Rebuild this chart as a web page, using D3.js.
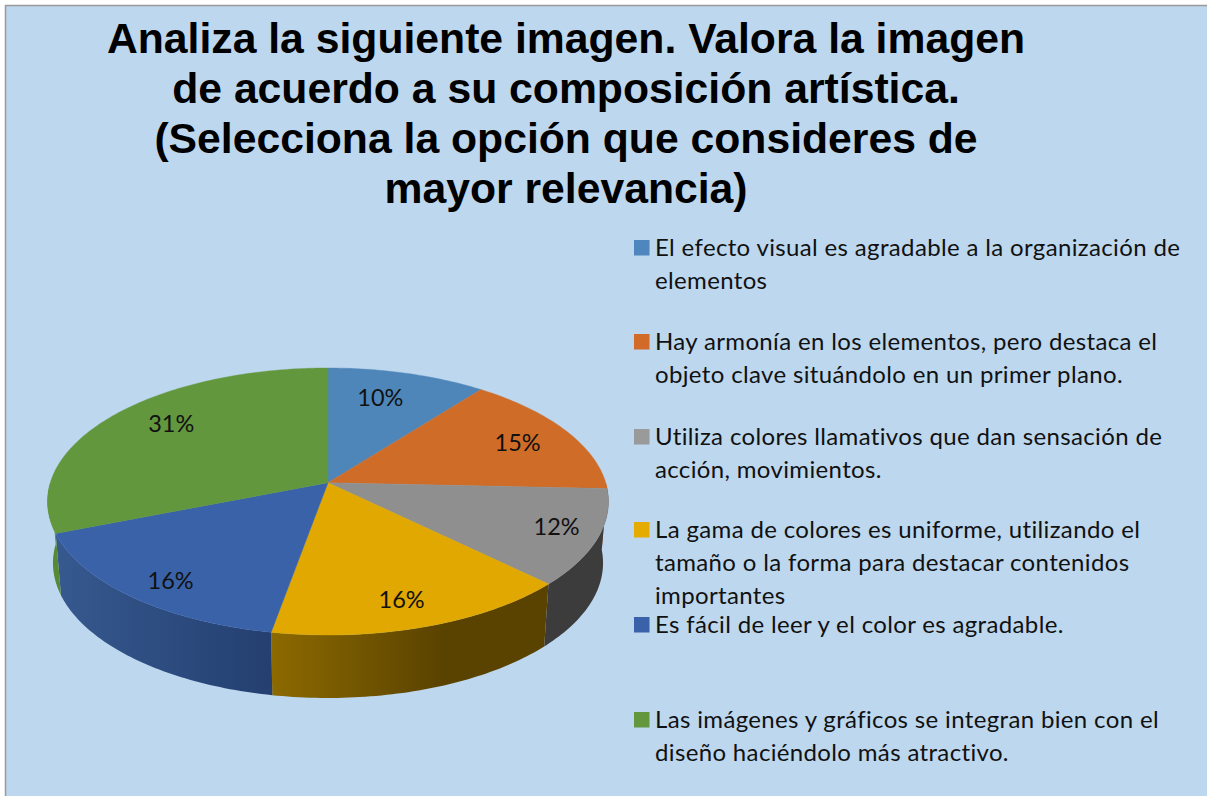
<!DOCTYPE html>
<html><head><meta charset="utf-8">
<script src="https://cdnjs.cloudflare.com/ajax/libs/d3/7.8.5/d3.min.js"></script>
<style>html,body{margin:0;padding:0;background:#fff;overflow:hidden}svg{display:block}</style>
</head><body><svg id="c" width="1207" height="796"></svg>
<script>
const titleLines = ["Analiza la siguiente imagen. Valora la imagen","de acuerdo a su composición artística.","(Selecciona la opción que consideres de","mayor relevancia)"];
const categories = [
 ["El efecto visual es agradable a la organización de","elementos"],
 ["Hay armonía en los elementos, pero destaca el","objeto clave situándolo en un primer plano."],
 ["Utiliza colores llamativos que dan sensación de","acción, movimientos."],
 ["La gama de colores es uniforme, utilizando el","tamaño o la forma para destacar contenidos","importantes"],
 ["Es fácil de leer y el color es agradable."],
 ["Las imágenes y gráficos se integran bien con el","diseño haciéndolo más atractivo."]
];
const values = [10.48,15.22,11.6,15.52,16.18,31.0];
const colors = ["#4e86b9","#cf6c28","#8f8f8f","#e0a800","#3a62a8","#62973e"];
const swatchColors = ["#4e86bd","#d26b2a","#9a9a9a","#e6ab00","#3a62a8","#62973e"];
const wallLeft = ["#3f6f9c","#a5561f","#3c3c3c","#8c6a00","#36598f","#568a35"];
const wallRight = ["#3f6f9c","#a5561f","#3c3c3c","#5a4200","#243f70","#568a35"];
const legendFirstLine = [248,342,437,530,625,720];
const labelRadius = [0.74,0.78,0.85,0.83,0.85,0.77];
const labelAngleShift = [-2.6,1,-1,1.3,-2.2,4.3];

const svg = d3.select("#c");
svg.append("rect").attr("x",5.5).attr("y",5.5).attr("width",1210).attr("height",800)
  .attr("fill","#bdd7ee").attr("stroke","#9a9a9a").attr("stroke-width",1.5);

// perspective disc: maps angle/radius on a flat circle to the page
const cx = 328, persp = -0.1408;
const plane = (r0,a,b) => (ang,f=1) => {
  const u = Math.sin(ang)*f, v = -Math.cos(ang)*f, w = 1+persp*v;
  return [cx + r0*u/w, (a*v+b)/w];
};
const topFace = plane(277.7,62.9,482.7);
const botFace = plane(272.3,55.7,544);

const arcs = d3.pie().sort(null).value(d=>d)(values);
const line = d3.line();
const defs = svg.append("defs");

// side walls (only the front half is visible)
const step = Math.PI/180;
const frontFrom = Math.PI*0.5, frontTo = Math.PI*1.5;
arcs.forEach((d,i)=>{
  const a0 = Math.max(d.startAngle, frontFrom), a1 = Math.min(d.endAngle, frontTo);
  if(a1<=a0) return;
  const as = d3.range(a0,a1,step).concat([a1]);
  const pts = as.map(a=>topFace(a)).concat(as.slice().reverse().map(a=>botFace(a)));
  const xs = d3.extent(pts,p=>p[0]);
  const g = defs.append("linearGradient").attr("id","w"+i).attr("gradientUnits","userSpaceOnUse")
    .attr("x1",xs[0]).attr("x2",xs[1]).attr("y1",0).attr("y2",0);
  g.append("stop").attr("offset",0).attr("stop-color",wallLeft[i]);
  g.append("stop").attr("offset",i===3?0.62:1).attr("stop-color",wallRight[i]);
  svg.append("path").attr("d",line(pts)+"Z").attr("fill",`url(#w${i})`);
});

// top face
arcs.forEach((d,i)=>{
  const as = d3.range(d.startAngle,d.endAngle,step).concat([d.endAngle]);
  const pts = [topFace(0,0)].concat(as.map(a=>topFace(a)));
  svg.append("path").attr("d",line(pts)+"Z").attr("fill",colors[i]).attr("stroke",colors[i]).attr("stroke-width",.4);
});

// percentage labels
const pct = d3.format(".0%");
arcs.forEach((d,i)=>{
  const p = topFace((d.startAngle+d.endAngle)/2+labelAngleShift[i]*Math.PI/180,labelRadius[i]);
  svg.append("text").attr("x",p[0]).attr("y",p[1]).attr("dy","0.35em").attr("text-anchor","middle")
    .attr("font-family","Lato").attr("font-size",23.5).attr("fill","#111").text(pct(d.data/100));
});

// title
titleLines.forEach((t,i)=>{
  svg.append("text").attr("x",566).attr("y",52.5+i*50).attr("text-anchor","middle")
    .attr("font-family","Liberation Sans").attr("font-weight","bold").attr("font-size",42.7).attr("fill","#000").text(t);
});

// legend
categories.forEach((lines,i)=>{
  const y0 = legendFirstLine[i];
  svg.append("rect").attr("x",634).attr("y",y0-8).attr("width",15.5).attr("height",15.5).attr("fill",swatchColors[i]);
  lines.forEach((t,j)=>{
    svg.append("text").attr("x",655).attr("y",y0+j*33).attr("dy","0.35em")
      .attr("font-family","Lato").attr("font-size",24).attr("letter-spacing",0.35).attr("fill","#111").text(t);
  });
});
</script></body></html>
